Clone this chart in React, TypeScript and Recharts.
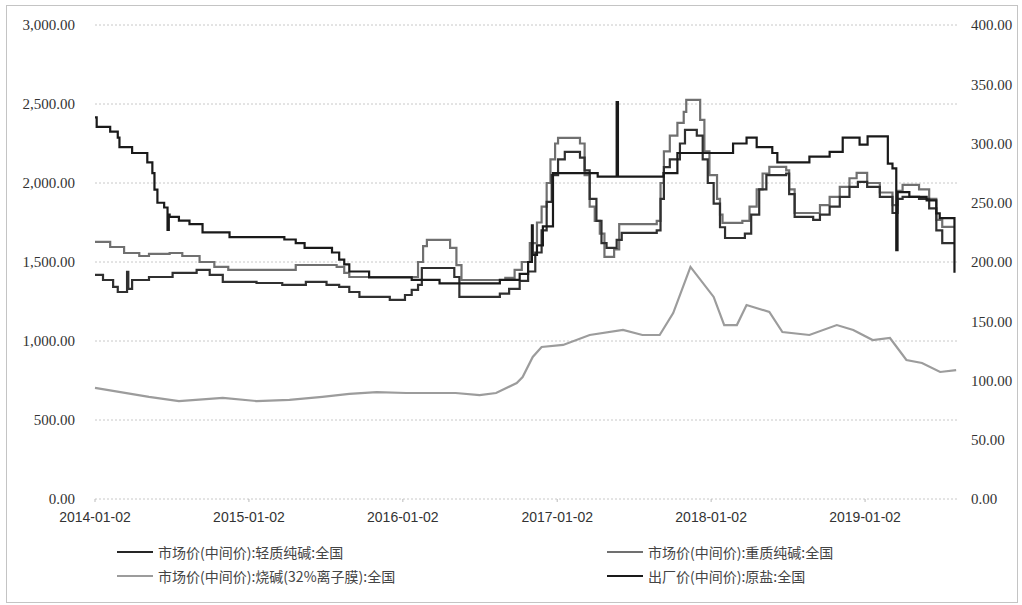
import React from "react";
import {CartesianGrid, Line, LineChart, XAxis, YAxis} from "recharts";

// 市场价(中间价):轻质纯碱:全国 (left axis)
const lightDates = [
  "2014-01-02", "2014-01-21", "2014-02-14", "2014-02-25", "2014-03-19", "2014-03-22", "2014-03-31",
  "2014-05-10", "2014-07-05", "2014-08-31", "2014-10-01", "2014-11-01", "2015-01-20", "2015-03-22",
  "2015-05-17", "2015-07-05", "2015-08-04", "2015-08-28", "2015-09-21", "2015-12-02", "2016-01-07",
  "2016-01-23", "2016-02-07", "2016-02-16", "2016-05-03", "2016-05-15", "2016-08-19", "2016-09-10",
  "2016-10-05", "2016-10-25", "2016-11-11", "2016-11-26", "2016-12-08", "2016-12-20", "2017-01-04",
  "2017-01-20", "2017-02-25", "2017-03-08", "2017-03-20", "2017-04-05", "2017-04-17", "2017-04-29",
  "2017-05-23", "2017-06-04", "2017-08-26", "2017-09-04", "2017-09-12", "2017-09-26", "2017-10-20",
  "2017-11-01", "2017-11-29", "2017-12-13", "2017-12-25", "2018-01-08", "2018-01-23", "2018-02-04",
  "2018-03-23", "2018-04-07", "2018-04-26", "2018-05-13", "2018-06-29", "2018-07-06", "2018-07-19",
  "2018-09-01", "2018-09-17", "2018-10-10", "2018-11-03", "2018-11-26", "2018-12-16", "2019-01-07",
  "2019-02-06", "2019-03-08", "2019-03-20", "2019-04-01", "2019-05-10", "2019-06-03", "2019-06-20",
  "2019-07-04", "2019-08-02",
];
const lightValues = [
  1418, 1386, 1342, 1310, 1437, 1330, 1386,
  1405, 1431, 1450, 1418, 1374, 1367, 1355,
  1374, 1355, 1342, 1310, 1279, 1260, 1291,
  1323, 1355, 1462, 1405, 1279, 1300, 1330,
  1380, 1440, 1560, 1700, 1880, 2050, 2150,
  2197, 2160, 2080, 1900, 1760, 1620, 1589,
  1640, 1684, 1700, 1900, 2100, 2150, 2250,
  2336, 2300, 2150, 2000, 1870, 1720, 1652,
  1680, 1800, 1960, 2050, 2060, 1930, 1785,
  1766, 1800, 1850, 1912, 1975, 2007, 1975,
  1912, 1810, 1900, 1912, 1900, 1840, 1700,
  1620, 1620,
];

// 市场价(中间价):重质纯碱:全国 (left axis)
const heavyDates = [
  "2014-01-02", "2014-02-07", "2014-03-12", "2014-04-17", "2014-05-10", "2014-06-28", "2014-07-28",
  "2014-09-07", "2014-10-12", "2014-11-14", "2015-04-23", "2015-07-29", "2015-08-16", "2015-08-28",
  "2016-01-26", "2016-02-07", "2016-02-19", "2016-02-28", "2016-04-23", "2016-05-08", "2016-05-20",
  "2016-09-01", "2016-09-23", "2016-10-10", "2016-10-29", "2016-11-15", "2016-11-26", "2016-12-08",
  "2016-12-17", "2016-12-28", "2017-01-04", "2017-02-25", "2017-03-08", "2017-03-20", "2017-04-01",
  "2017-04-13", "2017-04-24", "2017-05-17", "2017-05-29", "2017-08-26", "2017-09-04", "2017-09-12",
  "2017-09-26", "2017-10-14", "2017-10-29", "2017-11-04", "2017-11-29", "2017-12-07", "2017-12-17",
  "2017-12-29", "2018-01-16", "2018-01-23", "2018-01-29", "2018-03-17", "2018-04-03", "2018-04-20",
  "2018-05-04", "2018-05-20", "2018-06-29", "2018-07-06", "2018-07-19", "2018-09-01", "2018-09-17",
  "2018-10-10", "2018-11-03", "2018-11-26", "2018-12-13", "2019-01-07", "2019-02-06", "2019-03-08",
  "2019-03-20", "2019-04-01", "2019-05-10", "2019-06-03", "2019-06-20", "2019-07-04", "2019-08-02",
];
const heavyValues = [
  1627, 1595, 1557, 1538, 1551, 1557, 1538,
  1500, 1469, 1450, 1481, 1469, 1431, 1405,
  1405, 1500, 1600, 1640, 1589, 1480, 1386,
  1400, 1450, 1500, 1620, 1750, 1850, 2000,
  2150, 2250, 2285, 2250, 2050, 1850, 1760,
  1680, 1532, 1580, 1740, 1760, 2000, 2200,
  2300, 2380, 2450, 2526, 2526, 2400, 2200,
  2050, 1900, 1800, 1747, 1760, 1850, 1960,
  2060, 2102, 2080, 1960, 1810, 1810, 1860,
  1912, 1975, 2030, 2064, 2000, 1940, 1860,
  1950, 1988, 1960, 1900, 1766, 1722, 1722,
];

// 市场价(中间价):烧碱(32%离子膜):全国 (left axis)
const causticDates = [
  "2014-01-02", "2014-05-10", "2014-07-20", "2014-11-01", "2015-01-20", "2015-04-08", "2015-06-25",
  "2015-08-28", "2015-11-01", "2016-01-10", "2016-05-06", "2016-07-02", "2016-08-10", "2016-09-28",
  "2016-10-12", "2016-11-05", "2016-11-26", "2017-01-16", "2017-03-20", "2017-06-07", "2017-07-23",
  "2017-09-02", "2017-10-04", "2017-11-14", "2018-01-08", "2018-02-02", "2018-03-04", "2018-03-27",
  "2018-05-20", "2018-06-20", "2018-08-23", "2018-10-27", "2018-12-05", "2019-01-20", "2019-03-02",
  "2019-04-10", "2019-05-17", "2019-06-29", "2019-08-06",
];
const causticValues = [
  703, 646, 620, 640, 620, 627, 646,
  665, 677, 671, 671, 658, 671, 734,
  772, 899, 962, 975, 1038, 1070, 1038,
  1038, 1177, 1469, 1279, 1101, 1101, 1228,
  1184, 1057, 1038, 1101, 1070, 1006, 1019,
  880, 861, 804, 816,
];

// 出厂价(中间价):原盐:全国 (right axis)
const saltDates = [
  "2014-01-02", "2014-01-06", "2014-02-07", "2014-02-25", "2014-03-01", "2014-03-31", "2014-05-06",
  "2014-05-18", "2014-05-23", "2014-05-30", "2014-06-15", "2014-06-23", "2014-06-26", "2014-06-28",
  "2014-07-20", "2014-08-14", "2014-09-14", "2014-11-17", "2015-03-27", "2015-04-23", "2015-05-14",
  "2015-07-18", "2015-08-04", "2015-08-16", "2015-08-28", "2015-10-14", "2016-01-23", "2016-03-29",
  "2016-08-19", "2016-10-05", "2016-10-25", "2016-11-03", "2016-11-05", "2016-11-15", "2016-11-29",
  "2016-12-23", "2017-04-08", "2017-05-23", "2017-05-26", "2017-09-11", "2017-10-14", "2018-02-23",
  "2018-03-27", "2018-04-20", "2018-05-27", "2018-06-08", "2018-08-23", "2018-10-10", "2018-11-10",
  "2018-12-20", "2019-01-08", "2019-02-25", "2019-03-08", "2019-03-17", "2019-03-20", "2019-04-17",
  "2019-05-28", "2019-06-20", "2019-06-28", "2019-08-02",
];
const saltValues = [
  322, 314, 310, 305, 297, 292, 284,
  275, 261, 250, 246, 227, 240, 238,
  235, 232, 225, 221, 219, 216, 212,
  208, 202, 198, 192, 187, 185, 182,
  185, 190, 200, 231, 206, 214, 230,
  275, 272, 335, 272, 275, 292, 300,
  305, 297, 292, 284, 289, 293, 305,
  299, 306, 283, 279, 210, 259, 255,
  252, 241, 237, 191,
];

const xTickDates = ["2014-01-02", "2015-01-02", "2016-01-02", "2017-01-02", "2018-01-02", "2019-01-02"];
const leftTicks = [0, 500, 1000, 1500, 2000, 2500, 3000];
const rightTicks = [0, 50, 100, 150, 200, 250, 300, 350, 400];

const legendItems = [
  {name: "市场价(中间价):轻质纯碱:全国", color: "#262626"},
  {name: "市场价(中间价):重质纯碱:全国", color: "#707070"},
  {name: "市场价(中间价):烧碱(32%离子膜):全国", color: "#9c9c9c"},
  {name: "出厂价(中间价):原盐:全国", color: "#1a1a1a"},
];

const toTime = (d: string) => Date.parse(d);
const toPoints = (dates: string[], values: number[]) =>
  dates.map((d, i) => ({t: toTime(d), v: values[i]}));

const lightData = toPoints(lightDates, lightValues);
const heavyData = toPoints(heavyDates, heavyValues);
const causticData = toPoints(causticDates, causticValues);
const saltData = toPoints(saltDates, saltValues);

const fmt = (v: number) =>
  v.toLocaleString("en-US", {minimumFractionDigits: 2, maximumFractionDigits: 2});

const fmtDate = (t: number) => new Date(t).toISOString().slice(0, 10);

const App = () => {
  const serifTick = {fontFamily: "'Liberation Serif', serif", fontSize: 15, fill: "#333"};
  const sansTick = {fontFamily: "'Liberation Sans', sans-serif", fontSize: 14, fill: "#333"};

  return (
    <div style={{position: "absolute", left: 0, top: 0, width: 1022, height: 605, background: "#fff"}}>
      <div style={{position: "absolute", left: 6, top: 5, width: 1010, height: 596, border: "1px solid #c4c4c4"}} />
      <LineChart
        width={1022}
        height={605}
        margin={{top: 25, right: 0, bottom: 76, left: 0}}
        style={{position: "absolute", left: 0, top: 0}}
      >
        <CartesianGrid vertical={false} stroke="#c8c8c8" strokeDasharray="2 2" yAxisId="left" />
        <XAxis
          dataKey="t"
          type="number"
          scale="time"
          domain={[toTime("2014-01-02"), toTime("2019-08-08")]}
          ticks={xTickDates.map(toTime)}
          tickFormatter={fmtDate}
          axisLine={false}
          tickSize={3}
          tickLine={{stroke: "#bbb"}}
          tickMargin={10}
          tick={sansTick}
          allowDuplicatedCategory={false}
          height={30}
        />
        <YAxis
          yAxisId="left"
          orientation="left"
          domain={[0, 3000]}
          ticks={leftTicks}
          tickFormatter={fmt}
          axisLine={false}
          tickLine={false}
          tickSize={0}
          tickMargin={20}
          width={95}
          tick={serifTick}
        />
        <YAxis
          yAxisId="right"
          orientation="right"
          domain={[0, 400]}
          ticks={rightTicks}
          tickFormatter={fmt}
          axisLine={false}
          tickLine={false}
          tickSize={0}
          tickMargin={14}
          width={65}
          tick={serifTick}
        />
        <Line yAxisId="left" data={causticData} dataKey="v" type="linear" stroke="#9c9c9c" strokeWidth={2.2} dot={false} isAnimationActive={false} />
        <Line yAxisId="left" data={heavyData} dataKey="v" type="stepAfter" stroke="#707070" strokeWidth={2.2} dot={false} isAnimationActive={false} />
        <Line yAxisId="left" data={lightData} dataKey="v" type="stepAfter" stroke="#303030" strokeWidth={2.2} dot={false} isAnimationActive={false} />
        <Line yAxisId="right" data={saltData} dataKey="v" type="stepAfter" stroke="#1a1a1a" strokeWidth={2.2} dot={false} isAnimationActive={false} />
      </LineChart>
      {legendItems.map((item, i) => (
        <div
          key={item.name}
          style={{
            position: "absolute",
            left: i % 2 === 0 ? 117 : 607,
            top: i < 2 ? 542 : 566,
            display: "flex",
            alignItems: "center",
            fontFamily: "'Noto Sans CJK SC', sans-serif",
            fontSize: 14,
            color: "#444",
            whiteSpace: "nowrap",
          }}
        >
          <span style={{display: "inline-block", width: 36, height: 2.5, background: item.color, marginRight: 5}} />
          {item.name}
        </div>
      ))}
    </div>
  );
};

export default App;
